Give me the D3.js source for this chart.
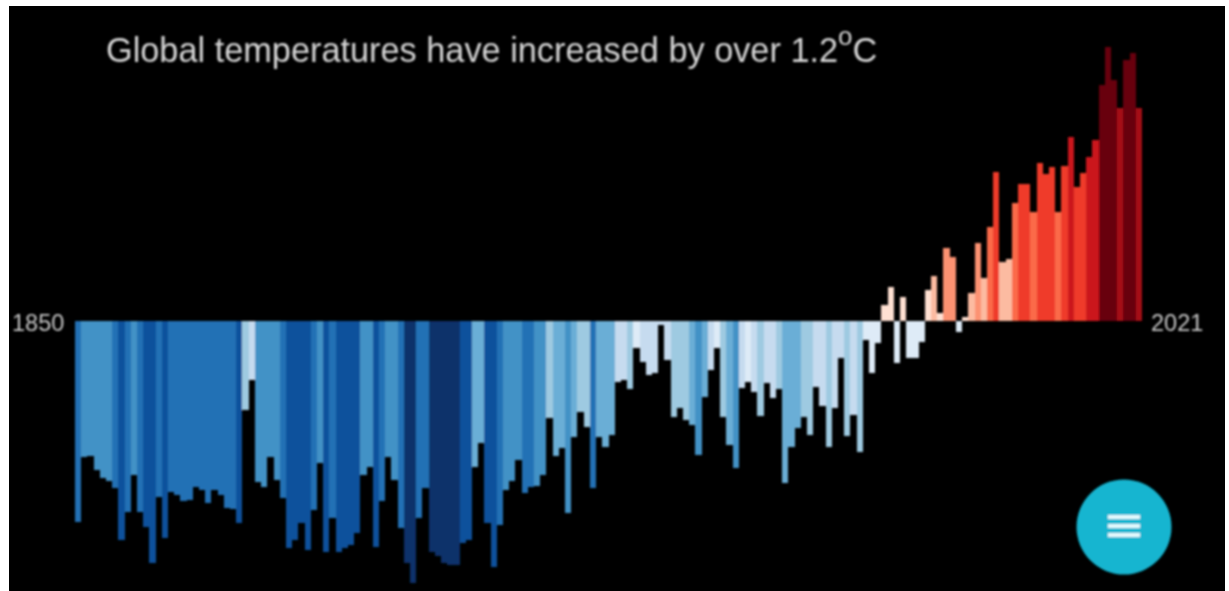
<!doctype html>
<html lang="en">

<head>
    <meta charset="utf-8">
    <title>Global temperatures</title>
    <script src="https://d3js.org/d3.v7.min.js"></script>
    <style>
        html, body {
            margin: 0;
            background: white;
        }

        svg {
            display: block;
        }

        text {
            font-family: "Liberation Sans", sans-serif;
        }
    </style>
</head>

<body>
    <svg id="svg" width="1229" height="591"></svg>

    <script>
        const titleText = "Global temperatures have increased by over 1.2";
        const firstYear = "1850", lastYear = "2021";

        // anomaly in degrees, one per year from 1850
        const anomalies = [
            -0.804, -0.544, -0.540, -0.596, -0.628, -0.640, -0.668, -0.876, -0.764, -0.616,
            -0.764, -0.824, -0.968, -0.704, -0.868, -0.684, -0.696, -0.720, -0.716, -0.664,
            -0.676, -0.728, -0.676, -0.696, -0.748, -0.752, -0.808, -0.356, -0.236, -0.644,
            -0.664, -0.544, -0.636, -0.708, -0.908, -0.876, -0.808, -0.916, -0.756, -0.568,
            -0.924, -0.788, -0.924, -0.908, -0.896, -0.848, -0.616, -0.584, -0.904, -0.720,
            -0.544, -0.636, -0.828, -0.968, -1.048, -0.788, -0.668, -0.924, -0.940, -0.968,
            -0.976, -0.976, -0.888, -0.876, -0.584, -0.488, -0.808, -0.984, -0.816, -0.676,
            -0.640, -0.556, -0.688, -0.664, -0.660, -0.616, -0.388, -0.540, -0.508, -0.768,
            -0.464, -0.364, -0.424, -0.668, -0.464, -0.504, -0.456, -0.244, -0.236, -0.272,
            -0.108, -0.164, -0.216, -0.208, -0.016, -0.156, -0.384, -0.348, -0.396, -0.416,
            -0.536, -0.304, -0.196, -0.108, -0.384, -0.496, -0.588, -0.268, -0.244, -0.284,
            -0.380, -0.248, -0.308, -0.272, -0.648, -0.504, -0.428, -0.384, -0.456, -0.264,
            -0.340, -0.504, -0.348, -0.148, -0.460, -0.376, -0.524, -0.076, -0.208, -0.088,
            0.064, 0.136, -0.168, 0.096, -0.148, -0.148, -0.084, 0.124, 0.180, 0.032,
            0.292, 0.256, -0.044, 0.016, 0.112, 0.312, 0.172, 0.376, 0.596, 0.236,
            0.248, 0.472, 0.548, 0.548, 0.436, 0.632, 0.588, 0.616, 0.436, 0.620,
            0.736, 0.536, 0.592, 0.656, 0.724, 0.944, 1.096, 0.964, 0.852, 1.044,
            1.072, 0.852
        ];

        // colour class of each year's stripe, 0 coldest to 15 warmest
        const stripeClass = [
            2, 3, 3, 3, 3, 3, 2, 1, 2, 3,
            2, 1, 1, 2, 1, 2, 2, 2, 2, 2,
            2, 2, 2, 2, 2, 2, 1, 5, 6, 3,
            3, 3, 3, 2, 1, 1, 1, 1, 2, 3,
            1, 2, 1, 1, 1, 1, 3, 3, 1, 2,
            3, 3, 2, 0, 0, 2, 2, 0, 0, 0,
            0, 0, 1, 1, 4, 4, 1, 1, 2, 3,
            3, 3, 2, 2, 3, 3, 5, 4, 4, 3,
            4, 5, 5, 2, 4, 4, 4, 6, 6, 5,
            7, 6, 6, 6, 6, 6, 5, 5, 5, 4,
            3, 4, 6, 7, 5, 4, 3, 6, 7, 6,
            5, 6, 6, 5, 4, 4, 4, 5, 5, 6,
            6, 5, 6, 6, 5, 6, 5, 7, 7, 7,
            8, 8, 7, 8, 7, 7, 7, 8, 9, 8,
            10, 10, 7, 8, 9, 10, 9, 11, 12, 9,
            9, 11, 12, 12, 11, 12, 12, 12, 11, 12,
            13, 12, 12, 13, 13, 15, 15, 15, 14, 15,
            15, 14
        ];

        const stripeColors = [
            "#08306b", "#08519c", "#2171b5", "#4292c6", "#6baed6", "#9ecae1", "#c6dbef", "#deebf7",
            "#fee0d2", "#fcbba1", "#fc9272", "#fb6a4a", "#ef3b2c", "#cb181d", "#a50f15", "#67000d"
        ];

        const years = d3.range(1850, 1850 + anomalies.length);
        const data = years.map((year, i) => ({ year, value: anomalies[i], cls: stripeClass[i] }));

        const svg = d3.select("#svg");

        const xScale = d3.scaleBand().domain(years).range([75, 1142]);
        const yScale = d3.scaleLinear().domain([0, 1]).range([321, 71]);
        const zScale = d3.scaleOrdinal().domain(d3.range(16)).range(stripeColors);

        // the reference is a soft, upscaled screenshot
        svg.append("defs").append("filter")
            .attr("id", "soft")
            .attr("x", "-5%").attr("y", "-5%")
            .attr("width", "110%").attr("height", "110%")
            .append("feGaussianBlur")
            .attr("stdDeviation", 0.9);

        svg.append("rect")
            .attr("x", 9)
            .attr("y", 6)
            .attr("width", 1216)
            .attr("height", 585)
            .attr("fill", "black");

        const content = svg.append("g").attr("filter", "url(#soft)");

        content.append("g")
            .attr("shape-rendering", "crispEdges")
            .selectAll("rect")
            .data(data)
            .join("rect")
            .attr("x", d => xScale(d.year))
            .attr("y", d => Math.min(yScale(d.value), yScale(0)))
            .attr("width", xScale.bandwidth())
            .attr("height", d => Math.abs(yScale(d.value) - yScale(0)))
            .attr("fill", d => zScale(d.cls));

        const title = content.append("text")
            .attr("x", 106)
            .attr("y", 62)
            .attr("fill", "#d6d6d6")
            .attr("font-size", 34.3)
            .text(titleText);

        title.append("tspan")
            .attr("dy", -17.5)
            .attr("font-size", 26)
            .text("o");

        title.append("tspan")
            .attr("dy", 17.5)
            .text("C");

        content.append("text")
            .attr("x", 12)
            .attr("y", 331)
            .attr("fill", "#c8c8c8")
            .attr("font-size", 23.5)
            .text(firstYear);

        content.append("text")
            .attr("x", 1151)
            .attr("y", 331)
            .attr("fill", "#c8c8c8")
            .attr("font-size", 23.5)
            .text(lastYear);

        // round menu button
        const button = content.append("g");

        button.append("circle")
            .attr("cx", 1124)
            .attr("cy", 527)
            .attr("r", 47.5)
            .attr("fill", "#12b5d0");

        button.selectAll("line")
            .data([-9, 0, 9])
            .join("line")
            .attr("x1", 1108)
            .attr("x2", 1140)
            .attr("y1", d => 526 + d)
            .attr("y2", d => 526 + d)
            .attr("stroke", "#e6fbff")
            .attr("stroke-width", 4);
    </script>
</body>

</html>
